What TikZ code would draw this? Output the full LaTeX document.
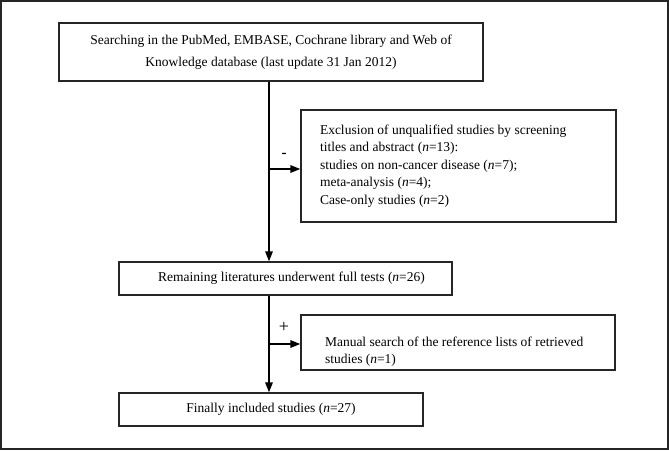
\documentclass[tikz,border=0pt]{standalone}
\usepackage{fontspec}
\setmainfont{Liberation Serif}
\usetikzlibrary{arrows.meta}
\begin{document}
\begin{tikzpicture}[x=1pt,y=-1pt,
  box/.style={draw=black!85, line width=1.3pt, inner ysep=0pt, font=\fontsize{13.5}{17.5}\selectfont},
  flow/.style={line width=1.6pt, draw=black, -{Triangle[length=10pt,width=7.5pt]}},
  lbl/.style={inner sep=0pt}]
\useasboundingbox (0,0) rectangle (669,452);
\draw[line width=1.5pt, black!85] (1,1) rectangle (668,449);

\node[box, align=center, minimum width=424pt, minimum height=58pt, inner xsep=0pt,
  font=\fontsize{13.5}{22}\selectfont] (b1) at (271,52)
  {Searching in the PubMed, EMBASE, Cochrane library and Web of\\Knowledge database (last update 31 Jan 2012)};

\node[box, align=flush left, text width=277pt, inner xsep=19pt, minimum height=112pt] (ex) at (458.5,166)
  {Exclusion of unqualified studies by screening\\
   titles and abstract (\textit{n}=13):\\
   studies on non-cancer disease (\textit{n}=7);\\
   meta-analysis (\textit{n}=4);\\
   Case-only studies (\textit{n}=2)};

\node[box, minimum width=333pt, minimum height=33pt, inner xsep=0pt] (b2) at (285.5,278.5)
  {\hspace*{12pt}Remaining literatures underwent full tests (\textit{n}=26)};

\node[box, align=flush left, text width=266pt, inner xsep=24pt, minimum height=55pt] (man) at (458,342.5)
  {\rule{0pt}{28pt}Manual search of the reference lists of retrieved\\
   studies (\textit{n}=1)};

\node[box, minimum width=304pt, minimum height=33pt, inner xsep=0pt] (b3) at (271,409.5)
  {Finally included studies (\textit{n}=27)};

\coordinate (tx) at (269,0);
\coordinate (j1) at (269,169);
\coordinate (j2) at (269,344);

\draw[flow] (b1.south -| tx) -- (b2.north -| tx);
\draw[flow] (j1) -- (ex.west |- j1);
\draw[flow] (b2.south -| tx) -- (b3.north -| tx);
\draw[flow] (j2) -- (man.west |- j2);

\node[lbl, font=\fontsize{15}{15}\bfseries] (minus) at (284,155) {-};
\node[lbl, font=\fontsize{18}{18}\selectfont] (plus) at (284,327) {+};
\end{tikzpicture}
\end{document}
